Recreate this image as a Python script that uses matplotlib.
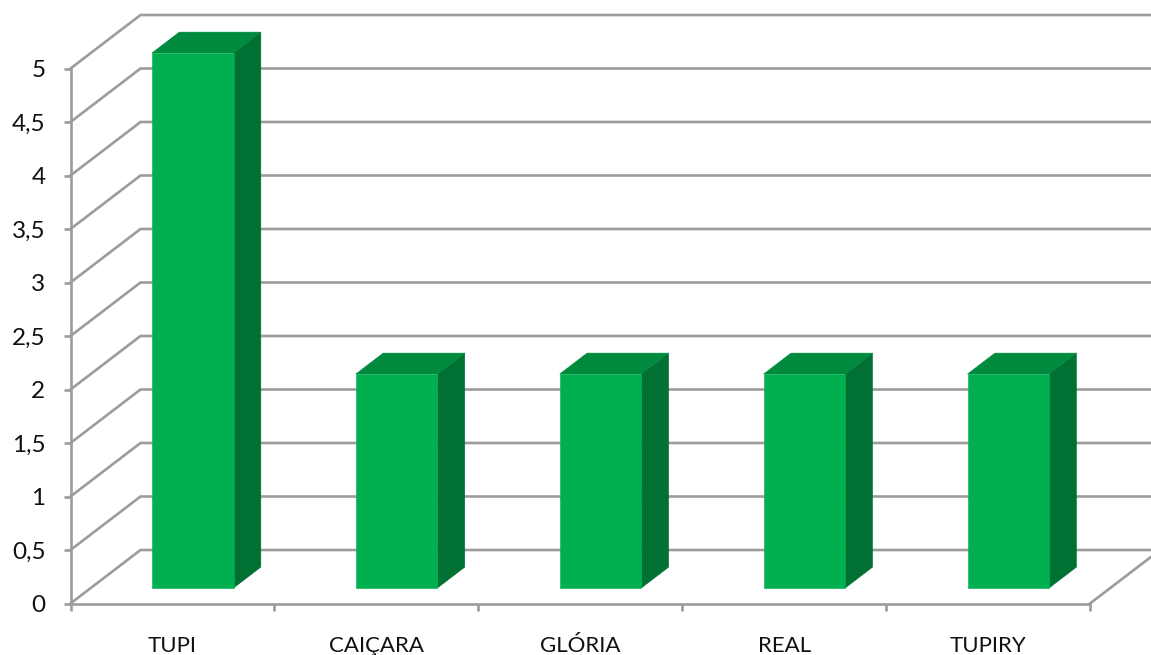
import matplotlib
matplotlib.use("Agg")
import matplotlib.pyplot as plt
from matplotlib.patches import Polygon
from matplotlib.transforms import ScaledTranslation

categories = ["TUPI", "CAIÇARA", "GLÓRIA", "REAL", "TUPIRY"]
values = [5, 2, 2, 2, 2]
grid_values = [0, 0.5, 1, 1.5, 2, 2.5, 3, 3.5, 4, 4.5, 5]
grid_labels = ["0", "0,5", "1", "1,5", "2", "2,5", "3", "3,5", "4", "4,5", "5"]

W, H = 1151, 655
LEFT, RIGHT, BASE, TOP = 70.5, 1090, 603.5, 68.5
GRID = "#9c9c9c"
FRONT, SIDE, ROOF = "#00b050", "#007033", "#008a3e"
DEPTH_X = 70 / ((RIGHT - LEFT) / 5)   # back-plane shift, category units
DEPTH_Y = 0.5                         # back-plane shift, value units
BAR_W = 0.4
D0, D1 = 0.29, 0.68

plt.rcParams["font.family"] = ["Lato", "DejaVu Sans"]
fig = plt.figure(figsize=(W / 100, H / 100), dpi=100, facecolor="white")
ax = fig.add_axes([LEFT / W, 1 - BASE / H, (RIGHT - LEFT) / W, (BASE - TOP) / H])
ax.set_xlim(0, len(categories))
ax.set_ylim(0, 5)
ax.patch.set_visible(False)


def proj(x, y, d):
    return (x + DEPTH_X * d, y + DEPTH_Y * d)


# back wall and left wall grid lines
for v in grid_values:
    xs, ys = zip(proj(0, v, 0), proj(0, v, 1), proj(len(categories), v, 1))
    ax.plot(xs, ys, color=GRID, lw=1.9, clip_on=False, zorder=1,
            solid_joinstyle="miter")
# floor right edge
xs, ys = zip(proj(len(categories), 0, 0), proj(len(categories), 0, 1))
ax.plot(xs, ys, color=GRID, lw=1.9, clip_on=False, zorder=1)

# bars
for i, v in enumerate(values):
    xl, xr = i + 0.5 - BAR_W / 2, i + 0.5 + BAR_W / 2
    front = [proj(xl, 0, D0), proj(xr, 0, D0), proj(xr, v, D0), proj(xl, v, D0)]
    side = [proj(xr, 0, D0), proj(xr, 0, D1), proj(xr, v, D1), proj(xr, v, D0)]
    roof = [proj(xl, v, D0), proj(xr, v, D0), proj(xr, v, D1), proj(xl, v, D1)]
    for pts, c in ((side, SIDE), (roof, ROOF), (front, FRONT)):
        ax.add_patch(Polygon(pts, closed=True, facecolor=c, edgecolor=c, lw=0.4,
                             clip_on=False, zorder=3))

for s in ("top", "right"):
    ax.spines[s].set_visible(False)
for s in ("left", "bottom"):
    ax.spines[s].set_color(GRID)
    ax.spines[s].set_linewidth(1.9)
    ax.spines[s].set_zorder(2)

ax.set_yticks(grid_values)
ax.set_yticklabels(grid_labels)
ax.tick_params(axis="y", length=5, width=1.9, color=GRID, labelsize=17.5, pad=13,
               labelcolor="#111111")
ax.set_xticks(range(len(categories) + 1))
ax.set_xticklabels([""] * (len(categories) + 1))
ax.tick_params(axis="x", which="major", length=5, width=1.9, color=GRID)
ax.set_xticks([i + 0.5 for i in range(len(categories))], minor=True)
ax.set_xticklabels(categories, minor=True)
ax.tick_params(axis="x", which="minor", length=0, labelsize=16, pad=23.5,
               labelcolor="#111111")

shift = ScaledTranslation(0, 0, fig.dpi_scale_trans)
for t in ax.get_yticklabels():
    t.set_transform(t.get_transform() + shift)

fig.savefig("out.png", dpi=100, facecolor="white")
